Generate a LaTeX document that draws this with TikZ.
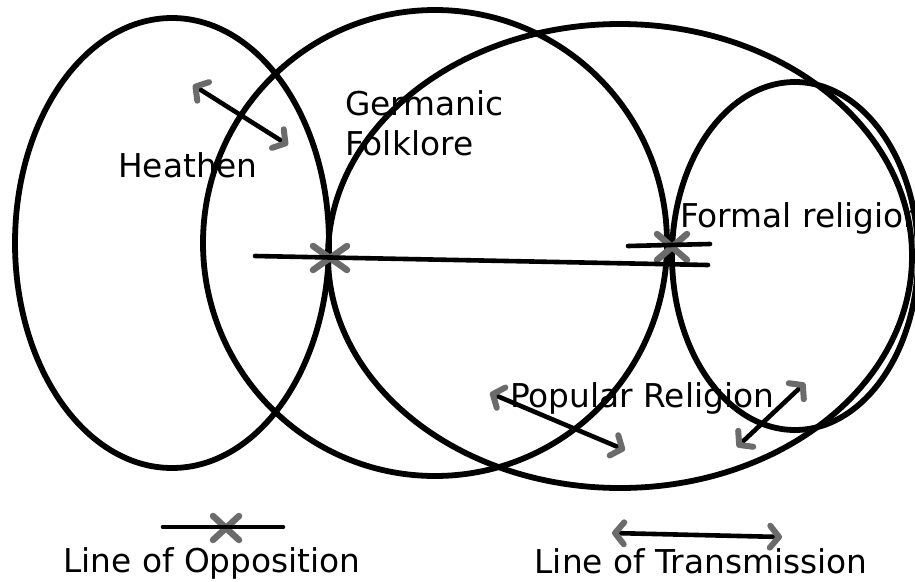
\documentclass[tikz,border=0pt]{standalone}
\usepackage{fontspec}
\setmainfont{DejaVu Sans}
\usetikzlibrary{arrows.meta}

\begin{document}
\begin{tikzpicture}[x=1pt, y=-1pt, line cap=round,
	ring/.style={line width=5.8pt},
	lbl/.style={font=\fontsize{32.8}{40}\selectfont, inner sep=0pt, anchor=west, align=left},
	cue/.style={draw=black!58, line width=6.5pt, line cap=round},
	barb/.tip={Straight Barb[color=black!58, line width=6pt, round, length=9pt, width=22pt]},
	link/.style={line width=4.6pt},
	duo/.style={link, {barb}-{barb}}]

	\useasboundingbox (0,0) rectangle (915,581);

	% the four spheres
	\draw[ring] (172,243) ellipse [x radius=157, y radius=225];
	\draw[ring] (435,243) ellipse [x radius=232, y radius=233];
	\draw[ring] (620,256) ellipse [x radius=292, y radius=232];
	\draw[ring] (795,256) ellipse [x radius=123, y radius=174];

	\node[lbl] (heathen) at (118,165) {Heathen};
	\node[lbl] (germanic) at (345,123) {Germanic\\Folklore};
	\node[lbl] (formal) at (680,218) {Formal religion};
	\node[lbl] (popular) at (510,398) {Popular Religion};
	\node[lbl, anchor=center] (opposition) at (212,563) {Line of Opposition};
	\node[lbl, anchor=center] (transmission) at (701,561) {Line of Transmission};

	\coordinate (o1) at (330,258);
	\coordinate (o2) at (672,247);
	\coordinate (o3) at (226,528);
	\coordinate (a1) at (255,256);
	\coordinate (a2) at (708,265);
	\coordinate (b1) at (628,246);
	\coordinate (b2) at (710,244);
	\coordinate (c1) at (163,527);
	\coordinate (c2) at (283,527);

	% opposition crosses (under the lines)
	\foreach \p/\dx/\dy in {o1/17/12, o2/15/13, o3/13/12}{
		\draw[cue, shift={(\p)}] (-\dx,-\dy) -- (\dx,\dy) (-\dx,\dy) -- (\dx,-\dy);
	}
	\draw[link] (a1) -- (a2);
	\draw[link] (b1) -- (b2);
	\draw[link] (c1) -- (c2);

	% transmission arrows
	\coordinate (t1) at (193,85);
	\coordinate (t2) at (288,145);
	\coordinate (t3) at (490,393);
	\coordinate (t4) at (625,450);
	\coordinate (t5) at (737,447);
	\coordinate (t6) at (805,383);
	\coordinate (t7) at (612,533);
	\coordinate (t8) at (782,537);
	\draw[duo] (t1) -- (t2);
	\draw[duo] (t3) -- (t4);
	\draw[duo] (t5) -- (t6);
	\draw[duo] (t7) -- (t8);
\end{tikzpicture}
\end{document}
